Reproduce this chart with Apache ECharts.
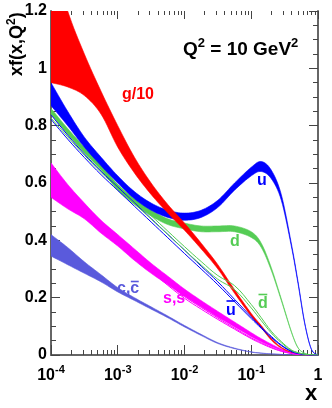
<!DOCTYPE html>
<html><head><meta charset="utf-8">
<script src="https://cdn.jsdelivr.net/npm/echarts@6/dist/echarts.min.js"></script>
<style>html,body{margin:0;padding:0;background:#fff}#c{width:332px;height:408px}</style>
</head><body><div id="c"></div>
<script>
// ---- data ----
const xs = [1e-4, 1.778e-4, 3.162e-4, 5.623e-4, 1e-3, 1.778e-3, 3.162e-3, 5.623e-3, 1e-2, 1.778e-2, 3.162e-2, 5.623e-2, 0.1, 0.1413, 0.1995, 0.2818, 0.3981, 0.5012, 0.631, 0.7943, 1];

const gLo = [0.95, 0.935, 0.905, 0.84, 0.725, 0.635, 0.56, 0.495, 0.435, 0.37, 0.30, 0.215, 0.135, 0.095, 0.052, 0.024, 0.009, 0.004, 0.0015, 0.0003, 0];
const gHi = [1.40, 1.20, 1.05, 0.92, 0.80, 0.69, 0.60, 0.525, 0.46, 0.39, 0.315, 0.228, 0.145, 0.103, 0.058, 0.027, 0.010, 0.0045, 0.0018, 0.0004, 0];

const uLo = [0.87, 0.80, 0.725, 0.66, 0.60, 0.545, 0.505, 0.48, 0.47, 0.48, 0.515, 0.575, 0.625, 0.64, 0.615, 0.54, 0.38, 0.25, 0.11, 0.02, 0];
const uHi = [0.95, 0.85, 0.76, 0.69, 0.625, 0.57, 0.53, 0.505, 0.495, 0.505, 0.54, 0.60, 0.655, 0.675, 0.645, 0.56, 0.39, 0.257, 0.114, 0.021, 0];

const dLo = [0.84, 0.77, 0.705, 0.645, 0.575, 0.525, 0.485, 0.455, 0.44, 0.43, 0.43, 0.43, 0.41, 0.375, 0.295, 0.19, 0.08, 0.025, 0.006, 0.0005, 0];
const dHi = [0.86, 0.79, 0.725, 0.665, 0.595, 0.545, 0.505, 0.475, 0.46, 0.45, 0.45, 0.45, 0.43, 0.39, 0.305, 0.196, 0.083, 0.026, 0.006, 0.0005, 0];

const ubarLo = [0.822, 0.753, 0.689, 0.629, 0.574, 0.519, 0.464, 0.409, 0.354, 0.30, 0.245, 0.186, 0.127, 0.093, 0.061, 0.033, 0.012, 0.005, 0.002, 0.0005, 0];
const ubarHi = [0.838, 0.767, 0.701, 0.641, 0.586, 0.531, 0.476, 0.421, 0.366, 0.31, 0.255, 0.194, 0.133, 0.097, 0.065, 0.035, 0.014, 0.007, 0.002, 0.0005, 0];

const dbarLo = [0.827, 0.761, 0.697, 0.637, 0.582, 0.528, 0.474, 0.42, 0.366, 0.314, 0.264, 0.228, 0.164, 0.12, 0.077, 0.043, 0.016, 0.0075, 0.003, 0.001, 0];
const dbarHi = [0.843, 0.775, 0.709, 0.649, 0.594, 0.54, 0.486, 0.432, 0.378, 0.326, 0.277, 0.242, 0.176, 0.13, 0.083, 0.047, 0.018, 0.0085, 0.003, 0.001, 0];

const sLo = [0.55, 0.51, 0.475, 0.425, 0.38, 0.33, 0.285, 0.245, 0.205, 0.168, 0.132, 0.098, 0.064, 0.046, 0.03, 0.016, 0.006, 0.003, 0.001, 0, 0];
const sHi = [0.67, 0.595, 0.53, 0.47, 0.42, 0.37, 0.32, 0.275, 0.23, 0.19, 0.152, 0.115, 0.078, 0.057, 0.038, 0.021, 0.008, 0.004, 0.0015, 0, 0];

const sbarLo = [0.59, 0.54, 0.49, 0.44, 0.39, 0.34, 0.292, 0.243, 0.198, 0.16, 0.124, 0.09, 0.057, 0.04, 0.025, 0.013, 0.005, 0.002, 0.001, 0, 0];
const sbarHi = [0.60, 0.55, 0.50, 0.45, 0.40, 0.35, 0.30, 0.25, 0.204, 0.166, 0.129, 0.094, 0.06, 0.043, 0.027, 0.014, 0.006, 0.0025, 0.001, 0, 0];

const cLo = [0.345, 0.315, 0.285, 0.255, 0.22, 0.19, 0.16, 0.13, 0.098, 0.068, 0.04, 0.022, 0.01, 0.006, 0.004, 0.002, 0.001, 0, 0, 0, 0];
const cHi = [0.42, 0.375, 0.325, 0.28, 0.235, 0.20, 0.168, 0.136, 0.103, 0.072, 0.043, 0.024, 0.011, 0.007, 0.004, 0.002, 0.001, 0, 0, 0, 0];

const yTicks = [0, 0.2, 0.4, 0.6, 0.8, 1, 1.2];
const xTickExps = [-4, -3, -2, -1, 0];

// ---- styling ----
const FONT = '"Liberation Sans", Arial, Helvetica, sans-serif';
const RED = '#ff0000', BLUE = '#0000ff', GREEN = '#55cc55', MAG = '#ff00ff', CCOL = '#5a5adc';
const AX = '#666666';

function spline(pts) {
  const out = [], n = pts.length, K = 8;
  for (let i = 0; i < n - 1; i++) {
    const p0 = pts[Math.max(i - 1, 0)], p1 = pts[i], p2 = pts[i + 1], p3 = pts[Math.min(i + 2, n - 1)];
    for (let s = 0; s < K; s++) {
      const t = s / K, t2 = t * t, t3 = t2 * t;
      const f = (a, b, c, d) => 0.5 * (2 * b + (-a + c) * t + (2 * a - 5 * b + 4 * c - d) * t2 + (-a + 3 * b - 3 * c + d) * t3);
      out.push([f(p0[0], p1[0], p2[0], p3[0]), f(p0[1], p1[1], p2[1], p3[1])]);
    }
  }
  out.push(pts[n - 1]);
  return out;
}

function band(lo, hi, color) {
  return {
    type: 'custom', coordinateSystem: 'cartesian2d', xAxisIndex: 0, yAxisIndex: 0,
    clip: true, silent: true,
    data: xs.map((x, i) => [x, lo[i], hi[i]]),
    encode: { x: 0, y: [1, 2] },
    renderItem: function (params, api) {
      if (params.dataIndex !== 0) return null;
      const up = [], dn = [];
      for (let j = 0; j < xs.length; j++) {
        const xv = api.value(0, j);
        up.push(api.coord([xv, api.value(2, j)]));
        dn.push(api.coord([xv, api.value(1, j)]));
      }
      const pts = spline(up).concat(spline(dn).reverse());
      const cs = params.coordSys;
      return {
        type: 'polygon', shape: { points: pts },
        style: { fill: color, stroke: color, lineWidth: 0.6 },
        clipPath: { type: 'rect', shape: { x: cs.x, y: cs.y, width: cs.width, height: cs.height } }
      };
    }
  };
}
function thin(vals, color, w) {
  return {
    type: 'line', xAxisIndex: 0, yAxisIndex: 0, symbol: 'none', smooth: 0.4, silent: true,
    data: xs.map((x, i) => [x, vals[i]]),
    lineStyle: { color: color, width: w || 1 }
  };
}

const mctx = document.createElement('canvas').getContext('2d');
function tw(t, fs) { mctx.font = 'bold ' + fs + 'px ' + FONT; return mctx.measureText(t).width; }

function txt(t, x, baseline, color, fs, align) {
  return { type: 'text', x: x, y: baseline - 0.33 * fs, silent: true,
    style: { text: t, fill: color, font: 'bold ' + fs + 'px ' + FONT, align: align || 'left', verticalAlign: 'middle' } };
}
function barLabel(pre, ch, left, baseline, color, fs, oy) {
  const w0 = tw(pre, fs), w1 = tw(ch, fs);
  return [
    txt(pre + ch, left, baseline, color, fs),
    { type: 'line', silent: true, shape: { x1: left + w0 + 0.5, y1: baseline - oy, x2: left + w0 + w1 - 0.5, y2: baseline - oy },
      style: { stroke: color, lineWidth: 1.6 } }
  ];
}
function supText(parts, left, baseline, fs, sfs, color) {
  const els = []; let x = left;
  parts.forEach(p => {
    const f = p.sup ? sfs : fs; const b = p.sup ? baseline - fs * 0.42 : baseline;
    els.push(txt(p.t, x, b, color, f));
    x += tw(p.t, f);
  });
  return els;
}

const graphics = [];
graphics.push(txt('g/10', 122, 100, RED, 16));
graphics.push(txt('u', 262, 186, BLUE, 16, 'center'));
graphics.push(txt('d', 235, 247, GREEN, 16, 'center'));
graphics.push(...barLabel('', 'd', 258, 309, GREEN, 16, 14.5));
graphics.push(...barLabel('', 'u', 226, 316, BLUE, 16, 15));
graphics.push(...barLabel('s,', 's', 163, 304, MAG, 16, 13));
graphics.push(...barLabel('c,', 'c', 117, 294, CCOL, 16, 12.5));
graphics.push(...supText([{ t: 'Q' }, { t: '2', sup: true }, { t: ' = 10 GeV' }, { t: '2', sup: true }], 183, 56, 19, 13, '#000'));
graphics.push(txt('x', 311, 401, '#000', 22, 'center'));
graphics.push({ type: 'group', x: 23, y: 76, rotation: Math.PI / 2, silent: true,
  children: supText([{ t: 'xf(x,Q' }, { t: '2', sup: true }, { t: ')' }], 0, 0, 18, 12, '#000') });

const chart = echarts.init(document.getElementById('c'), null, { renderer: 'canvas' });
const tickStyle = { color: '#444', width: 1 };
chart.setOption({
  animation: false,
  backgroundColor: '#fff',
  grid: { left: 51, right: 14, top: 11, bottom: 53, containLabel: false, outerBoundsMode: 'none' },
  xAxis: [
    { type: 'log', logBase: 10, min: 1e-4, max: 1, position: 'bottom',
      axisLine: { show: true, onZero: false, lineStyle: { color: AX, width: 2 } },
      axisTick: { show: true, inside: true, length: 10, lineStyle: tickStyle },
      minorTick: { show: true, splitNumber: 9, length: 5, lineStyle: tickStyle },
      splitLine: { show: false }, minorSplitLine: { show: false },
      axisLabel: { show: true, margin: 9, showMinLabel: true, showMaxLabel: true, hideOverlap: false,
        formatter: function (v) { const e = Math.round(Math.log10(v)); return e === 0 ? '{b|1}' : '{b|10}{s|' + e + '}'; },
        rich: { b: { fontSize: 16, fontWeight: 'bold', fontFamily: FONT, color: '#000', lineHeight: 20, verticalAlign: 'bottom' },
                s: { fontSize: 11, fontWeight: 'bold', fontFamily: FONT, color: '#000', lineHeight: 11, verticalAlign: 'top' } } } },
    { type: 'log', logBase: 10, min: 1e-4, max: 1, position: 'top',
      axisLine: { show: false, onZero: false },
      axisTick: { show: true, inside: true, length: 8, lineStyle: tickStyle },
      minorTick: { show: true, splitNumber: 9, length: 4, lineStyle: tickStyle },
      splitLine: { show: false }, axisLabel: { show: false } }
  ],
  yAxis: [
    { type: 'value', min: 0, max: 1.2, interval: 0.2, position: 'left',
      axisLine: { show: true, onZero: false, lineStyle: { color: AX, width: 2 } },
      axisTick: { show: true, inside: true, length: 9, lineStyle: tickStyle },
      minorTick: { show: true, splitNumber: 4, length: 5, lineStyle: tickStyle },
      splitLine: { show: false },
      axisLabel: { margin: 4, fontSize: 16, fontWeight: 'bold', fontFamily: FONT, color: '#000', showMinLabel: true, showMaxLabel: true } },
    { type: 'value', min: 0, max: 1.2, interval: 0.2, position: 'right',
      axisLine: { show: true, onZero: false, lineStyle: { color: AX, width: 2 } },
      axisTick: { show: true, inside: true, length: 9, lineStyle: tickStyle },
      minorTick: { show: true, splitNumber: 4, length: 5, lineStyle: tickStyle },
      splitLine: { show: false }, axisLabel: { show: false } }
  ],
  series: [
    band(cLo, cHi, CCOL),
    band(sLo, sHi, MAG),
    thin(sbarLo, MAG, 1), thin(sbarHi, MAG, 1),
    thin(ubarLo, BLUE, 1), thin(ubarHi, BLUE, 1),
    thin(dbarLo, GREEN, 1), thin(dbarHi, GREEN, 1),
    band(dLo, dHi, GREEN),
    band(uLo, uHi, BLUE),
    band(gLo, gHi, RED)
  ],
  graphic: graphics
});
</script></body></html>
